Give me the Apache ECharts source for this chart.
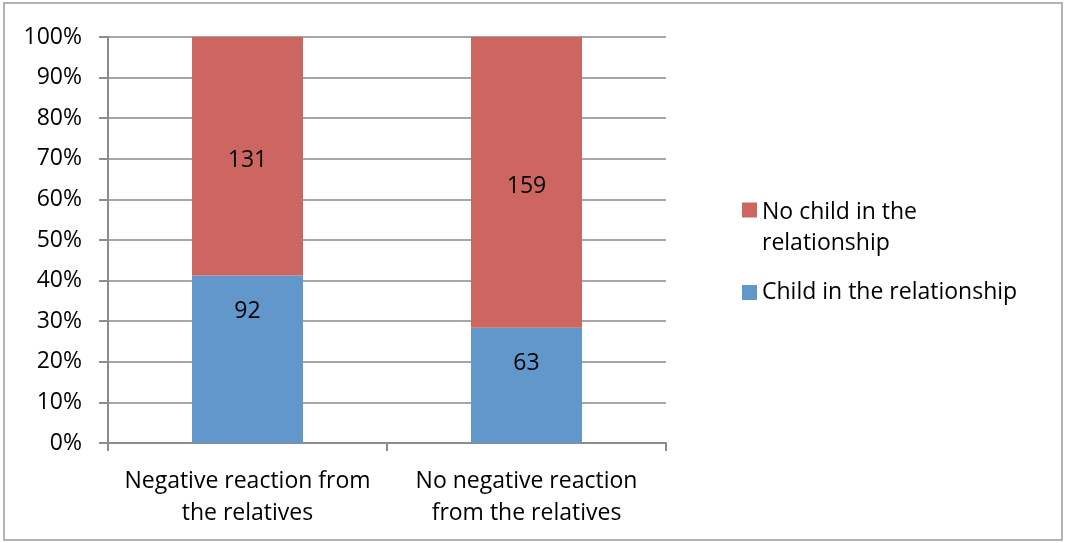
<!DOCTYPE html>
<html>
<head>
<meta charset="utf-8">
<script src="https://cdn.jsdelivr.net/npm/echarts@6/dist/echarts.min.js"></script>
<style>
  html, body { margin: 0; padding: 0; background: #fff; }
  #chart { width: 1066px; height: 543px; }
</style>
</head>
<body>
<div id="chart"></div>
<script>
const categories = ['Negative reaction from\nthe relatives', 'No negative reaction\nfrom the relatives']
const childCounts = [92, 63]
const noChildCounts = [131, 159]
const yTicks = [0, 10, 20, 30, 40, 50, 60, 70, 80, 90, 100]

const totals = childCounts.map((v, i) => v + noChildCounts[i])
const pct = (arr) => arr.map((v, i) => ({ value: v / totals[i] * 100, raw: v }))

const font = '"Open Sans", sans-serif'
const fs = 23
const chart = echarts.init(document.getElementById('chart'))

// legend icons padded to the same box so the square sits on the first text line
const topIcon = 'path://M0,0H15V15H0Z M0,51L0,51'
const midIcon = 'path://M0,18H15V33H0Z M0,0L0,0 M0,51L0,51'

chart.setOption({
  animation: false,
  textStyle: { fontFamily: font },
  graphic: [{
    type: 'rect',
    shape: { x: 4, y: 3, width: 1058, height: 537 },
    style: { fill: 'none', stroke: '#b3b3b3', lineWidth: 2 }
  }],
  grid: { left: 108, right: 400, top: 37, bottom: 100 },
  legend: {
    orient: 'vertical',
    left: 737,
    top: 192,
    itemWidth: 15,
    itemHeight: 51,
    itemGap: 8,
    data: [
      { name: 'No child in the\nrelationship', icon: topIcon },
      { name: 'Child in the relationship', icon: midIcon }
    ],
    textStyle: { fontSize: fs, color: '#000', lineHeight: 31, fontFamily: font }
  },
  xAxis: {
    type: 'category',
    data: categories,
    axisLine: { lineStyle: { color: '#8c8c8c', width: 2 } },
    axisTick: { show: true, length: 8, lineStyle: { color: '#8c8c8c', width: 2 } },
    axisLabel: { fontSize: fs, color: '#000', lineHeight: 32, margin: 22, fontFamily: font, interval: 0 }
  },
  yAxis: {
    type: 'value',
    min: 0,
    max: 100,
    interval: 10,
    axisLine: { show: true, lineStyle: { color: '#8c8c8c', width: 2 } },
    axisTick: { show: true, length: 9, lineStyle: { color: '#8c8c8c', width: 2 } },
    splitLine: { lineStyle: { color: '#a6a6a6', width: 2 } },
    axisLabel: {
      fontSize: fs, color: '#000', margin: 26, fontFamily: font,
      formatter: (v) => yTicks.includes(v) ? v + '%' : ''
    }
  },
  series: [
    {
      name: 'Child in the relationship',
      type: 'bar',
      stack: 'total',
      barWidth: 111,
      data: pct(childCounts),
      itemStyle: { color: '#6197cb' },
      label: {
        show: true, position: 'insideTop', distance: 24, fontSize: fs, color: '#000', fontFamily: font,
        formatter: (p) => p.data.raw
      }
    },
    {
      name: 'No child in the\nrelationship',
      type: 'bar',
      stack: 'total',
      barWidth: 111,
      data: pct(noChildCounts),
      itemStyle: { color: '#cd6661' },
      label: {
        show: true, position: 'inside', offset: [0, 4], fontSize: fs, color: '#000', fontFamily: font,
        formatter: (p) => p.data.raw
      }
    }
  ]
})
</script>
</body>
</html>
